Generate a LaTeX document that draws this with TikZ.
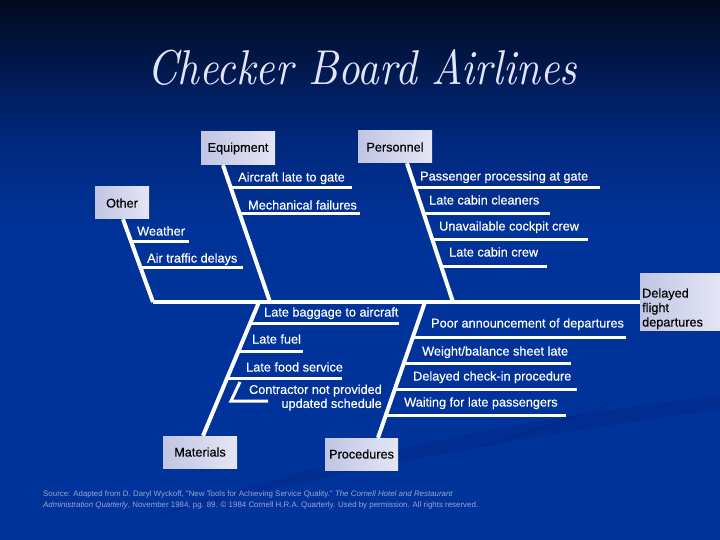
\documentclass[tikz,border=0pt]{standalone}
\usepackage{fontspec}
\newfontfamily\arial[FakeBold=0.4]{Liberation Sans}
\newfontfamily\arialnote{Liberation Sans}
\definecolor{bgblue}{RGB}{0,51,153}
\definecolor{bgtop}{RGB}{2,10,32}
\definecolor{bgmid}{RGB}{0,40,125}
\definecolor{swoosh}{RGB}{0,38,128}
\definecolor{boxlight}{RGB}{228,230,246}
\definecolor{boxdark}{RGB}{192,197,226}
\definecolor{titlecol}{RGB}{226,228,250}
\definecolor{notecol}{RGB}{150,165,215}
\tikzset{
  bone/.style={white, line width=4pt},
  twig/.style={white, line width=3pt},
  lbl/.style={text=white, anchor=base west, inner sep=0pt, font=\arial\fontsize{12.7}{14.5}\selectfont},
  fbbox/.style={left color=boxdark, right color=boxlight, draw=none, inner sep=0pt,
     font=\arial\fontsize{12.7}{14.5}\selectfont, text=black},
}
\begin{document}
\begin{tikzpicture}[x=1pt,y=-1pt]
\useasboundingbox (0,0) rectangle (720,540);
% background
\shade[top color=bgtop, bottom color=bgmid] (0,0) rectangle (720,140);
\shade[top color=bgmid, bottom color=bgblue] (0,139.5) rectangle (720,230);
\fill[bgblue] (0,229.5) rectangle (720,540);
% swooshes
\fill[swoosh, opacity=0.4] (140,520) .. controls (380,440) and (600,410) .. (720,395)
  -- (720,410) .. controls (600,425) and (380,460) .. (140,520) -- cycle;
\fill[swoosh, opacity=0.35] (470,450) .. controls (560,420) and (640,400) .. (650,370)
  .. controls (645,395) and (570,425) .. (470,450) -- cycle;

% title
\node[anchor=base west, inner sep=0pt, text=titlecol] (title) at (147,85)
  {\resizebox{430pt}{35pt}{\itshape Checker Board Airlines}};

% cause boxes
\node[fbbox, minimum width=74pt, minimum height=33pt] (equip) at (238,148.5) {Equipment};
\node[fbbox, minimum width=74pt, minimum height=32pt] (pers) at (395,147) {Personnel};
\node[fbbox, minimum width=54pt, minimum height=32pt] (other) at (122,203) {Other};
\node[fbbox, minimum width=74pt, minimum height=32pt] (mat) at (200,452) {Materials};
\node[fbbox, minimum width=73pt, minimum height=32pt] (proc) at (361.5,454) {Procedures};
\node[fbbox, minimum width=80pt, minimum height=57pt] (effect) at (680,301.5) {};
\node[anchor=base west, inner sep=0pt, align=left, text=black,
      font=\arial\fontsize{12.7}{14.5}\selectfont] (effecttext) at (642,326.5)
  {Delayed\\flight\\departures};

% bone coordinates
\coordinate (otherTop) at (123,219);
\coordinate (otherEnd) at (153,302);
\coordinate (equipTop) at (223,165);
\coordinate (equipEnd) at (270,302);
\coordinate (persTop) at (407,163);
\coordinate (persEnd) at (453,302);
\coordinate (matTop) at (259,302);
\coordinate (matEnd) at (203,436);
\coordinate (procTop) at (425,302);
\coordinate (procEnd) at (378,438);

% spine
\draw[bone] (otherEnd) -- (effect.west |- otherEnd);
% main bones
\draw[bone] (other.south -| otherTop) -- (otherEnd);
\draw[bone] (equip.south -| equipTop) -- (equipEnd);
\draw[bone] (pers.south -| persTop) -- (persEnd);
\draw[bone] (mat.north -| matEnd) -- (matTop);
\draw[bone] (proc.north -| procEnd) -- (procTop);

% Other twigs
\draw[twig] (130.5,241) -- (189,241);
\draw[twig] (140,267) -- (243,267);
\node[lbl] (weather) at (137,235.5) {Weather};
\node[lbl] (atd) at (147,262.5) {Air traffic delays};

% Equipment twigs
\draw[twig] (231,188) -- (352,188);
\draw[twig] (240,214) -- (360,214);
\node[lbl] (alg) at (238,181.5) {Aircraft late to gate};
\node[lbl] (mf) at (248,209.5) {Mechanical failures};

% Personnel twigs
\draw[twig] (415,188) -- (600,188);
\draw[twig] (424,214) -- (550,214);
\draw[twig] (432,239) -- (588,239);
\draw[twig] (441,266) -- (547,266);
\node[lbl] (ppg) at (420,180.5) {Passenger processing at gate};
\node[lbl] (lcc) at (429,204.5) {Late cabin cleaners};
\node[lbl] (ucc) at (439,230.5) {Unavailable cockpit crew};
\node[lbl] (lcw) at (449,256.5) {Late cabin crew};

% Materials twigs
\draw[twig] (250,323) -- (399,323);
\draw[twig] (238.5,351) -- (303,351);
\draw[twig] (227,378) -- (342,378);
\draw[twig] (240,382) -- (231,401) -- (268,401);
\node[lbl] (lba) at (264,316.5) {Late baggage to aircraft};
\node[lbl] (lf) at (252,343.5) {Late fuel};
\node[lbl] (lfs) at (246,371.5) {Late food service};
\node[text=white, anchor=north east, inner sep=0pt, align=right,
      font=\arial\fontsize{12.7}{14}\selectfont] (cnp) at (382,384.5)
  {Contractor not provided\\updated schedule};

% Procedures twigs
\draw[twig] (413,337) -- (626,337);
\draw[twig] (404,363) -- (571,363);
\draw[twig] (395,389) -- (577,389);
\draw[twig] (386,415) -- (566,415);
\node[lbl] (pad) at (431,327.5) {Poor announcement of departures};
\node[lbl] (wbs) at (422,355.5) {Weight/balance sheet late};
\node[lbl] (dci) at (413,380.5) {Delayed check-in procedure};
\node[lbl] (wlp) at (404,406.5) {Waiting for late passengers};

% source note
\node[anchor=base west, inner sep=0pt, align=left, text=notecol,
      font=\arialnote\fontsize{7.9}{11}\selectfont] (src) at (43,507.5)
  {Source: Adapted from D. Daryl Wyckoff, "New Tools for Achieving Service Quality." \textit{The Cornell Hotel and Restaurant}\\
   \textit{Administration Quarterly}, November 1984, pg. 89. \textcopyright\ 1984 Cornell H.R.A. Quarterly. Used by permission. All rights reserved.};
\end{tikzpicture}
\end{document}
